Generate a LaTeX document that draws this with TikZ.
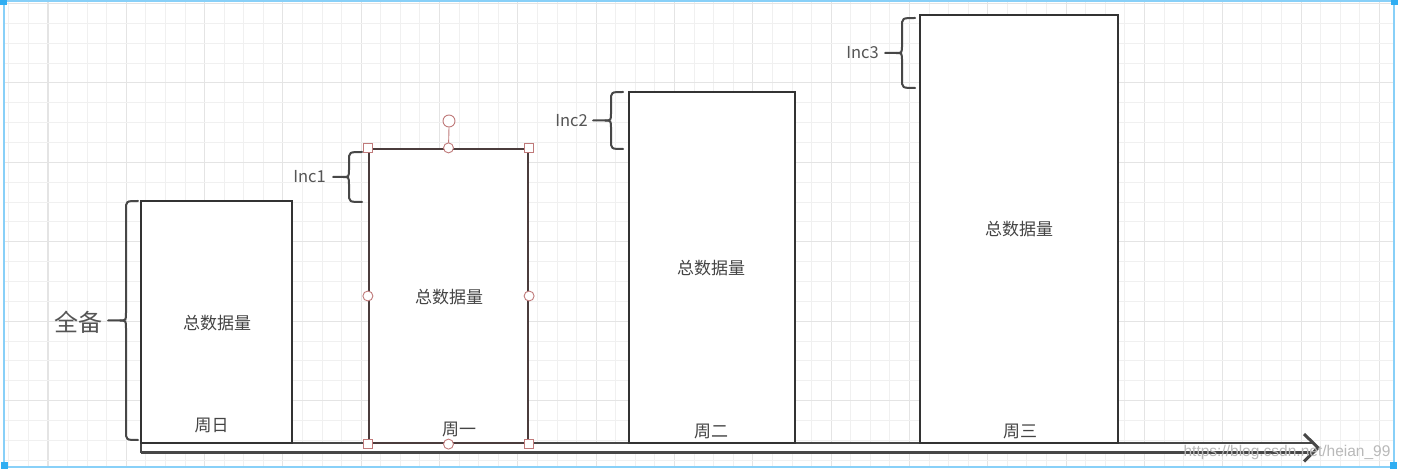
\documentclass[tikz,border=0pt]{standalone}
\usepackage{fontspec}
\setmainfont{Noto Sans CJK SC}
\newfontfamily\wmfont{Liberation Sans}
\definecolor{gridminor}{HTML}{F0F0F0}
\definecolor{gridmajor}{HTML}{E4E4E4}
\definecolor{frameblue}{HTML}{88D0F8}
\definecolor{handleblue}{HTML}{30AEF2}
\definecolor{boxline}{HTML}{333333}
\definecolor{selline}{HTML}{4A3C3C}
\definecolor{handlered}{HTML}{C07A7A}
\definecolor{txt}{HTML}{444444}
\definecolor{lbltxt}{HTML}{555555}
\tikzset{
  databox/.style={draw=boxline, line width=2.2pt, fill=white, rectangle, inner sep=0pt},
  selbox/.style={databox, draw=selline},
  sqhandle/.style={draw=handlered, fill=white, line width=0.9pt, rectangle, minimum size=9pt, inner sep=0pt},
  cirhandle/.style={draw=handlered, fill=white, line width=0.9pt, circle, minimum size=10pt, inner sep=0pt},
  inbox/.style={text=txt, font=\fontsize{17}{19}\selectfont, inner sep=0pt},
  daylbl/.style={text=txt, font=\fontsize{17}{19}\selectfont, inner sep=0pt},
  inclbl/.style={text=lbltxt, font=\fontsize{16.5}{18}\selectfont, inner sep=0pt, anchor=east},
  bracestyle/.style={draw=boxline!90, line width=2pt, line cap=round},
  arrowline/.style={draw=boxline!90, line width=2.2pt},
  arrowhd/.style={draw=boxline!90, line width=3pt, line join=miter},
}
\newcommand{\drawbrace}[5]{% #1 tip x, #2 top y, #3 bottom y, #4 spine offset, #5 point offset
  \pgfmathsetmacro\bm{(#2+#3)/2}
  \pgfmathsetmacro\sx{#1-#4}
  \pgfmathsetmacro\px{#1-#5}
  \pgfmathsetmacro\kx{#1-#4-6}
  \draw[bracestyle] (#1,#2) .. controls (\sx,#2) .. (\sx,#2+9) -- (\sx,\bm-8)
     .. controls (\sx,\bm) .. (\kx,\bm) -- (\px,\bm);
  \draw[bracestyle] (#1,#3) .. controls (\sx,#3) .. (\sx,#3-9) -- (\sx,\bm+8)
     .. controls (\sx,\bm) .. (\kx,\bm);
}
\begin{document}
\begin{tikzpicture}[x=1pt,y=-1pt]
\useasboundingbox (0,0) rectangle (1401,470);
\fill[white] (0,0) rectangle (1401,470);
% grid
\begin{scope}
\clip (4,1) rectangle (1394,467);
\foreach \i in {0,...,71}{
  \pgfmathsetmacro\gx{8.8+19.58*\i}
  \pgfmathtruncatemacro\md{mod(\i,4)}
  \ifnum\md=2 \draw[gridmajor, line width=1.1pt] (\gx,0) -- (\gx,470);
  \else \draw[gridminor, line width=1pt] (\gx,0) -- (\gx,470); \fi
}
\foreach \j in {0,...,23}{
  \pgfmathsetmacro\gy{3.5+19.86*\j}
  \pgfmathtruncatemacro\md{mod(\j,4)}
  \ifnum\md=0 \draw[gridmajor, line width=1.1pt] (0,\gy) -- (1401,\gy);
  \else \draw[gridminor, line width=1pt] (0,\gy) -- (1401,\gy); \fi
}
\end{scope}
% selection frame
\draw[frameblue, line width=2.4pt] (4,1) rectangle (1394,467);
\foreach \cx/\cy in {3.5/1.5, 1394/1.5, 1393.5/465.5, 4/465.5}
  \fill[handleblue] (\cx-3.5,\cy-3.5) rectangle (\cx+3.5,\cy+3.5);

% arrow (double line, open head)
\coordinate (aTL) at (141,443);
\coordinate (aBL) at (141,452.5);
\coordinate (aTR) at (1313,443);
\coordinate (aBR) at (1313,452.5);
\coordinate (hUp) at (1304,434);
\coordinate (hTip) at (1318,447.7);
\coordinate (hDn) at (1304,461.5);
\fill[white] (aTL) rectangle (aBR);
\draw[arrowline] (aTL) -- (aTR);
\draw[arrowline] (aBL) -- (aBR);
\draw[arrowline] (aTL) -- (aBL);
\draw[arrowhd] (hUp) -- (hTip) -- (hDn);

% boxes
\node[databox, minimum width=151pt, minimum height=242pt] (b1) at (216.5,322) {};
\node[databox, minimum width=198pt, minimum height=428pt] (b4) at (1019,229) {};
\node[databox, minimum width=166pt, minimum height=351pt] (b3) at (712,267.5) {};
\node[selbox, minimum width=159pt, minimum height=294pt] (b2) at (448.5,296) {};

\node[inbox] (t1) at (217,323) {总数据量};
\node[inbox] (t2) at (449,297) {总数据量};
\node[inbox] (t3) at (711,268) {总数据量};
\node[inbox] (t4) at (1019,229) {总数据量};

\node[daylbl] (d1) at (211.5,425) {周日};
\node[daylbl] (d2) at (459,429) {周一};
\node[daylbl] (d3) at (711,431) {周二};
\node[daylbl] (d4) at (1020,431) {周三};

% selection handles on box 2
\node[cirhandle, minimum size=12pt] (rot) at (449,121) {};
\draw[handlered, line width=0.9pt] (rot.south) -- (b2.north);
\node[sqhandle] (h1) at (b2.north west) {};
\node[sqhandle] (h2) at (b2.north east) {};
\node[sqhandle] (h3) at (b2.south west) {};
\node[sqhandle] (h4) at (b2.south east) {};
\node[cirhandle] (h5) at (b2.north) {};
\node[cirhandle] (h6) at (b2.south) {};
\node[cirhandle] (h7) at (b2.west) {};
\node[cirhandle] (h8) at (b2.east) {};

% braces
\drawbrace{138}{201}{440}{12}{30}
\drawbrace{362}{152}{202}{13}{29}
\drawbrace{623}{92}{149}{12}{30}
\drawbrace{915}{18}{88}{13}{30}

\node[text=lbltxt, font=\fontsize{24}{26}\selectfont, inner sep=0pt, anchor=east] (full) at (103,322) {全备};
\node[inclbl] (i1) at (326,177) {Inc1};
\node[inclbl] (i2) at (588,121) {Inc2};
\node[inclbl] (i3) at (879,53) {Inc3};

% watermark
\node[text=gray!55, font=\wmfont\fontsize{15.5}{17}\selectfont, inner sep=0pt] (wm) at (1287,452) {https://blog.csdn.net/heian\_99};
\end{tikzpicture}
\end{document}
